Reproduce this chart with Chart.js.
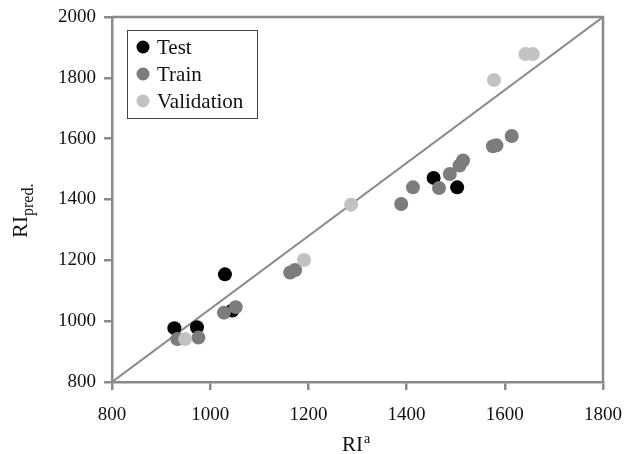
<!DOCTYPE html>
<html lang="en">
<head>
    <meta charset="UTF-8">
    <title>RI predicted vs RI</title>
    <script src="https://cdn.jsdelivr.net/npm/chart.js"></script>
    <style>
        html, body { margin: 0; padding: 0; background: #ffffff; }
        canvas { display: block; }
    </style>
</head>
<body>

    <canvas id="riChart" width="627" height="454"></canvas>

    <script>
        // values
        const testX  = [927, 973, 1030, 1045, 1455, 1503];
        const testY  = [977, 980, 1154, 1035, 1471, 1440];
        const trainX = [933, 976, 1028, 1052, 1163, 1173, 1389, 1413, 1466, 1488, 1508, 1515, 1576, 1583, 1614];
        const trainY = [941, 946, 1028, 1046, 1160, 1168, 1385, 1440, 1438, 1484, 1512, 1528, 1575, 1578, 1609];
        const valX   = [949, 1191, 1287, 1578, 1642, 1657];
        const valY   = [941, 1201, 1383, 1793, 1878, 1878];
        const lineX  = [800, 1800];
        const lineY  = [800, 2000];
        const xTicks = [800, 1000, 1200, 1400, 1600, 1800];
        const yTicks = [800, 1000, 1200, 1400, 1600, 1800, 2000];

        const toPoints = (xs, ys) => xs.map((x, i) => ({ x: x, y: ys[i] }));
        const serif = '"Liberation Serif", "Times New Roman", serif';
        const axisGrey = '#8a8a8a';

        // frame, axis titles (with sub/superscript) and boxed legend
        const decorations = {
            id: 'decorations',
            afterDraw(chart) {
                const ctx = chart.ctx;
                const a = chart.chartArea;
                ctx.save();

                ctx.strokeStyle = axisGrey;
                ctx.lineWidth = 2.5;
                ctx.beginPath();
                ctx.moveTo(a.left, a.top);
                ctx.lineTo(a.right, a.top);
                ctx.lineTo(a.right, a.bottom);
                ctx.stroke();

                ctx.fillStyle = '#111';
                ctx.textBaseline = 'alphabetic';
                ctx.textAlign = 'left';

                // x title: RI^a
                ctx.font = '21px ' + serif;
                const riW = ctx.measureText('RI').width;
                ctx.fillText('RI', 342, 451);
                ctx.font = '14px ' + serif;
                ctx.fillText('a', 342 + riW + 1, 443);

                // y title: RI_pred.
                ctx.save();
                ctx.translate(27, 238);
                ctx.rotate(-Math.PI / 2);
                ctx.font = '22px ' + serif;
                const riW2 = ctx.measureText('RI').width;
                ctx.fillText('RI', 0, 0);
                ctx.font = '16px ' + serif;
                ctx.fillText('pred.', riW2, 6);
                ctx.restore();

                // legend
                const items = [
                    { label: 'Test', color: '#000000' },
                    { label: 'Train', color: '#7c7c7c' },
                    { label: 'Validation', color: '#c2c2c2' }
                ];
                ctx.strokeStyle = '#444';
                ctx.lineWidth = 1;
                ctx.fillStyle = '#ffffff';
                ctx.fillRect(127.5, 30.5, 130, 88);
                ctx.strokeRect(127.5, 30.5, 130, 88);
                ctx.font = '21px ' + serif;
                items.forEach((it, i) => {
                    const y = 47 + i * 27;
                    ctx.fillStyle = it.color;
                    ctx.beginPath();
                    ctx.arc(143, y, 6.5, 0, Math.PI * 2);
                    ctx.fill();
                    ctx.fillStyle = '#111';
                    ctx.fillText(it.label, 157, y + 7);
                });

                ctx.restore();
            }
        };

        const ctx = document.getElementById('riChart').getContext('2d');
        new Chart(ctx, {
            type: 'scatter',
            data: {
                datasets: [
                    {
                        label: 'Validation',
                        data: toPoints(valX, valY),
                        backgroundColor: '#c2c2c2',
                        borderWidth: 0,
                        pointRadius: 7
                    },
                    {
                        label: 'Train',
                        data: toPoints(trainX, trainY),
                        backgroundColor: '#7c7c7c',
                        borderWidth: 0,
                        pointRadius: 7
                    },
                    {
                        label: 'Test',
                        data: toPoints(testX, testY),
                        backgroundColor: '#000000',
                        borderWidth: 0,
                        pointRadius: 7
                    },
                    {
                        type: 'line',
                        label: 'y=x',
                        data: toPoints(lineX, lineY),
                        borderColor: axisGrey,
                        borderWidth: 2,
                        pointRadius: 0,
                        fill: false
                    }
                ]
            },
            options: {
                responsive: false,
                animation: false,
                layout: { padding: { top: 17, right: 24, left: 0, bottom: 0 } },
                plugins: {
                    legend: { display: false },
                    tooltip: { enabled: false }
                },
                scales: {
                    x: {
                        type: 'linear',
                        min: 800,
                        max: 1800,
                        afterBuildTicks: (s) => { s.ticks = xTicks.map(v => ({ value: v })); },
                        afterFit: (s) => { s.height = 72; s.paddingLeft = 0; s.paddingRight = 0; },
                        border: { color: axisGrey, width: 2.5 },
                        grid: { drawOnChartArea: false, drawTicks: true, tickLength: 8, color: axisGrey, lineWidth: 2.5 },
                        ticks: {
                            color: '#111', font: { family: serif, size: 19 }, padding: 14,
                            maxRotation: 0, autoSkip: false, callback: (v) => String(v)
                        }
                    },
                    y: {
                        type: 'linear',
                        min: 800,
                        max: 2000,
                        afterBuildTicks: (s) => { s.ticks = yTicks.map(v => ({ value: v })); },
                        afterFit: (s) => { s.width = 112; s.paddingTop = 0; s.paddingBottom = 0; },
                        border: { color: axisGrey, width: 2.5 },
                        grid: { drawOnChartArea: false, drawTicks: true, tickLength: 8, color: axisGrey, lineWidth: 2.5 },
                        ticks: {
                            color: '#111', font: { family: serif, size: 19 }, padding: 8,
                            autoSkip: false, callback: (v) => String(v)
                        }
                    }
                }
            },
            plugins: [decorations]
        });
    </script>

</body>
</html>
